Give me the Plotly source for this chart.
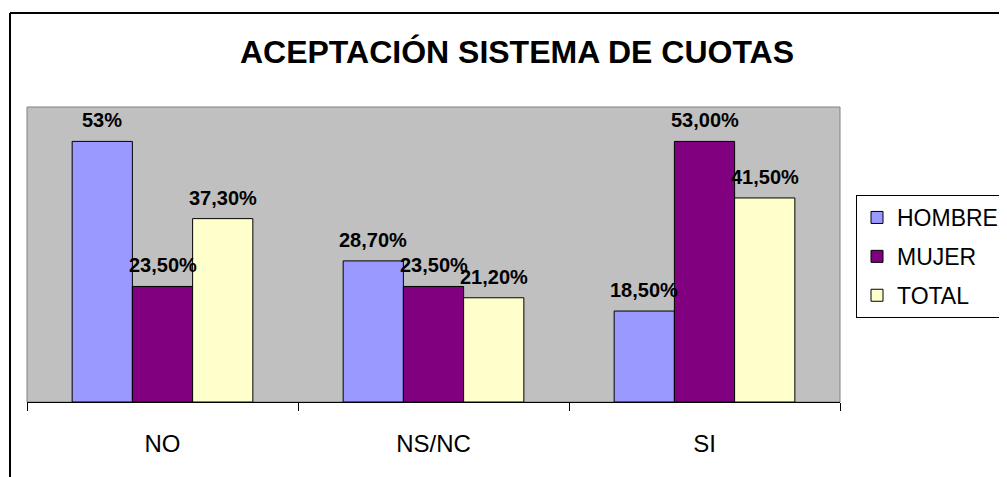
import plotly.graph_objects as go

CATEGORIES = ["NO", "NS/NC", "SI"]
SERIES = ["HOMBRE", "MUJER", "TOTAL"]
HOMBRE = [53.0, 28.7, 18.5]
MUJER = [23.5, 23.5, 53.0]
TOTAL = [37.3, 21.2, 41.5]
LABELS_HOMBRE = ["53%", "28,70%", "18,50%"]
LABELS_MUJER = ["23,50%", "23,50%", "53,00%"]
LABELS_TOTAL = ["37,30%", "21,20%", "41,50%"]

_COLORS = ["#9999FF", "#800080", "#FFFFCC"]
_FONT = "Liberation Sans, Arial, sans-serif"

# the page body has an 8px default margin, so the figure is a bit smaller
OFF = 8
W, H = 1007 - OFF, 477 - OFF
M = dict(l=27 - OFF, r=167, t=107 - OFF, b=75)
BARGAP = 1 / 3

values = [HOMBRE, MUJER, TOTAL]
labels = [LABELS_HOMBRE, LABELS_MUJER, LABELS_TOTAL]

fig = go.Figure()
for name, vals, color in zip(SERIES, values, _COLORS):
    fig.add_trace(go.Bar(
        x=CATEGORIES, y=vals, name=name, legendgroup=name,
        marker=dict(color=color, line=dict(color="black", width=1)),
    ))

# data labels, one per bar, shifted to the bar's slot in the group
plot_w = W - M["l"] - M["r"]
plot_h = H - M["t"] - M["b"]
bar_px = plot_w / len(CATEGORIES) * (1 - BARGAP) / len(SERIES)
annotations = []
for i, (vals, labs) in enumerate(zip(values, labels)):
    for cat, v, lab in zip(CATEGORIES, vals, labs):
        annotations.append(dict(
            x=cat, y=v, text=lab, showarrow=False,
            xanchor="center", yanchor="bottom",
            xshift=(i - 1) * bar_px, yshift=8,
            font=dict(family=_FONT, size=20, color="black", weight="bold"),
        ))

# outer chart border (only left and top edges are in view) + plot-area frame
y_top = (H - M["b"] - (13 - OFF)) / plot_h
x_left = ((10 - OFF) - M["l"]) / plot_w
shapes = [
    dict(type="rect", xref="paper", yref="paper", x0=0, x1=1, y0=0, y1=1,
         line=dict(color="#808080", width=1), layer="below"),
    dict(type="line", xref="paper", yref="paper", x0=x_left, x1=x_left, y0=-1, y1=y_top,
         line=dict(color="black", width=2)),
    dict(type="line", xref="paper", yref="paper", x0=x_left, x1=2, y0=y_top, y1=y_top,
         line=dict(color="black", width=2)),
]

fig.update_layout(
    width=W, height=H,
    margin=M,
    paper_bgcolor="white",
    plot_bgcolor="#C0C0C0",
    barmode="group",
    bargap=BARGAP,
    bargroupgap=0,
    font=dict(family=_FONT, size=24, color="black"),
    title=dict(
        text="<b>ACEPTACIÓN SISTEMA DE CUOTAS</b>",
        font=dict(family=_FONT, size=32, color="black"),
        x=(517 - OFF) / W, xref="container", xanchor="center",
        y=1 - (52 - OFF) / H, yref="container", yanchor="middle",
    ),
    xaxis=dict(
        showline=True, linecolor="black", linewidth=1,
        ticks="outside", ticklen=8, tickcolor="black", tickwidth=1,
        tickson="boundaries", ticklabelstandoff=20,
        showgrid=False, tickfont=dict(size=24),
    ),
    yaxis=dict(
        range=[0, 60], showgrid=False, zeroline=False,
        showticklabels=False, ticks="",
    ),
    legend=dict(
        xref="container", yref="container",
        x=(856 - OFF) / W, y=1 - (195 - OFF) / H,
        xanchor="left", yanchor="top",
        bgcolor="white", bordercolor="black", borderwidth=1,
        font=dict(size=23), tracegroupgap=6,
    ),
    shapes=shapes,
    annotations=annotations,
    showlegend=True,
)

fig.write_html("out.html")
